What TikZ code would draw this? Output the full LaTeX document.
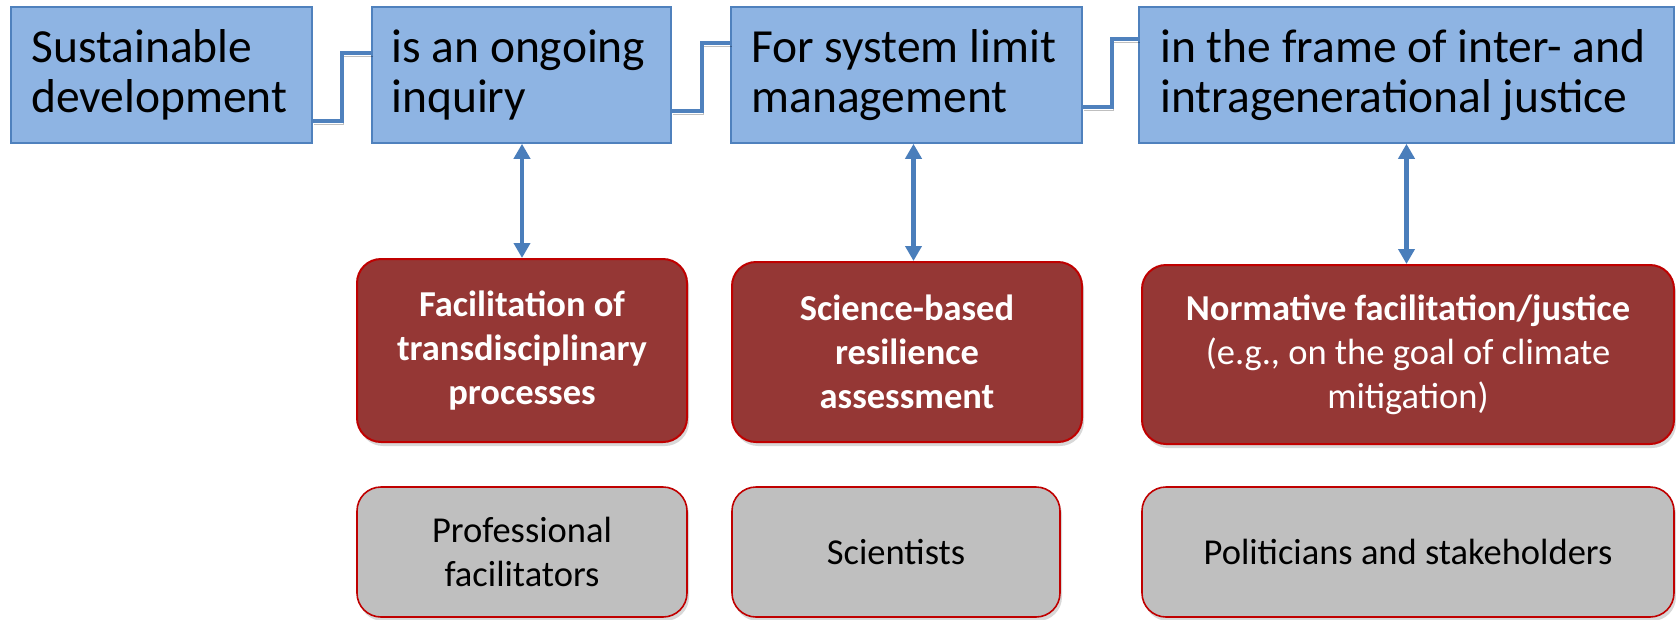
\documentclass[tikz,border=0pt]{standalone}
\usepackage{fontspec}
\setmainfont{Carlito}
\usetikzlibrary{arrows.meta,shadows}
\definecolor{boxblue}{HTML}{8EB4E3}
\definecolor{edgeblue}{HTML}{4F81BD}
\definecolor{darkred}{HTML}{953735}
\definecolor{edgered}{HTML}{C00000}
\definecolor{greybox}{HTML}{BFBFBF}
\definecolor{linkblue}{HTML}{4A7EBB}
\begin{document}
\begin{tikzpicture}[x=1pt,y=-1pt,
  topbox/.style={draw=edgeblue, line width=1.6pt, fill=boxblue, minimum height=136pt,
    inner sep=0pt},
  toptext/.style={anchor=west, inner sep=0pt, align=left, text=black,
    font=\fontsize{47.5pt}{50pt}\selectfont},
  rolebox/.style={draw=edgered, line width=2pt, fill=darkred, rounded corners=24pt,
    inner sep=0pt, align=center, text=white, font=\fontsize{36.5pt}{44pt}\selectfont,
    drop shadow={shadow xshift=2pt, shadow yshift=-4pt, opacity=0.3}},
  actorbox/.style={draw=edgered, line width=1.6pt, fill=greybox, rounded corners=24pt,
    inner sep=0pt, align=center, text=black, font=\fontsize{36.5pt}{44pt}\selectfont,
    drop shadow={shadow xshift=2pt, shadow yshift=-4pt, opacity=0.3}},
  link/.style={draw=edgeblue, line width=4.5pt,
    preaction={draw=black, opacity=0.25, transform canvas={shift={(1.5pt,-3pt)}}}},
  dbl/.style={draw=linkblue, line width=4.5pt,
    {Triangle[width=16pt,length=15pt]}-{Triangle[width=16pt,length=15pt]}}
]
\fill[white] (0,0) rectangle (1676,619);
\useasboundingbox (0,0) rectangle (1676,619);

% top row
\node[topbox, minimum width=301pt] (b1) at (161.5,75) {};
\node[topbox, minimum width=299pt] (b2) at (521.5,75) {};
\node[topbox, minimum width=351pt] (b3) at (906.5,75) {};
\node[topbox, minimum width=535pt] (b4) at (1406.5,75) {};
\node[toptext] (t1) at ([xshift=21pt]b1.west) {Sustainable\\development};
\node[toptext] (t2) at ([xshift=20pt]b2.west) {is an ongoing\\inquiry};
\node[toptext] (t3) at ([xshift=21pt]b3.west) {For system limit\\management};
\node[toptext] (t4) at ([xshift=22pt]b4.west) {in the frame of inter- and\\intragenerational justice};

% elbow connectors
\draw[link] ([yshift=-46pt]b1.east) -| (342,53) -- ([yshift=22pt]b2.west);
\draw[link] ([yshift=-36pt]b2.east) -| (702,43) -- ([yshift=32pt]b3.west);
\draw[link] ([yshift=-32pt]b3.east) -| (1112,39) -- ([yshift=36pt]b4.west);

% role boxes
\node[rolebox, minimum width=330pt, minimum height=183pt] (r1) at (522,350.5)
  {\textbf{Facilitation of}\\\textbf{transdisciplinary}\\\textbf{processes}};
\node[rolebox, minimum width=350pt, minimum height=180pt] (r2) at (907,352)
  {\textbf{Science-based}\\\textbf{resilience}\\\textbf{assessment}};
\node[rolebox, minimum width=532pt, minimum height=179pt] (r3) at (1408,354.5)
  {\textbf{Normative facilitation/justice}\\(e.g., on the goal of climate\\mitigation)};

% actor boxes
\node[actorbox, minimum width=330pt, minimum height=130pt] (g1) at (522,552) {Professional\\facilitators};
\node[actorbox, minimum width=328pt, minimum height=130pt] (g2) at (896,552) {Scientists};
\node[actorbox, minimum width=532pt, minimum height=130pt] (g3) at (1408,552) {Politicians and stakeholders};

% double arrows
\draw[dbl] (b2.south -| r1.north) -- (r1.north);
\draw[dbl] ([xshift=7pt]b3.south) -- ([xshift=7pt]b3.south |- r2.north);
\draw[dbl] (b4.south) -- (b4.south |- r3.north);
\end{tikzpicture}
\end{document}
